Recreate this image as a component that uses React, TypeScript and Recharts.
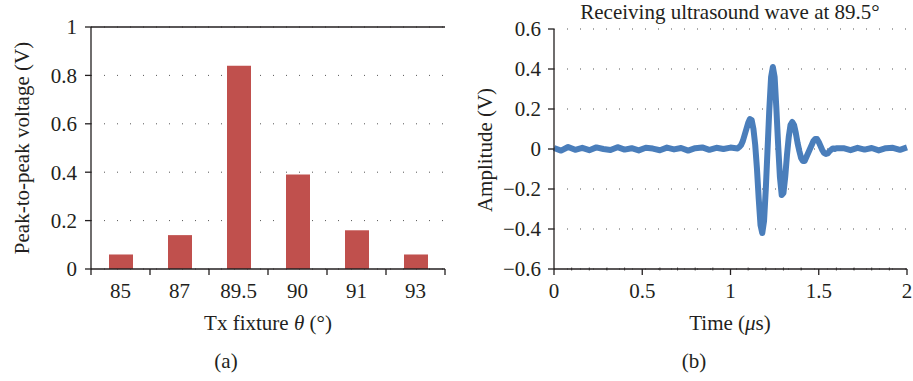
import React from "react";
import {
  BarChart,
  Bar,
  LineChart,
  Line,
  XAxis,
  YAxis,
  CartesianGrid,
  ReferenceLine,
} from "recharts";

// (a) peak-to-peak voltage per Tx fixture angle
const angles = ["85", "87", "89.5", "90", "91", "93"];
const peakVoltage = [0.06, 0.14, 0.84, 0.39, 0.16, 0.06];
const voltageTicks = [0, 0.2, 0.4, 0.6, 0.8, 1];

// (b) received waveform at 89.5 deg
const waveTime = [
  0, 0.04, 0.08, 0.12, 0.16, 0.2, 0.24, 0.28, 0.32, 0.36, 0.4, 0.44, 0.48, 0.52,
  0.56, 0.6, 0.64, 0.68, 0.72, 0.76, 0.8, 0.84, 0.88, 0.92, 0.96, 1.0, 1.04,
  1.05, 1.06, 1.07, 1.08, 1.09, 1.1, 1.11, 1.12, 1.13, 1.14, 1.15, 1.16, 1.17,
  1.18, 1.19, 1.2, 1.21, 1.22, 1.23, 1.24, 1.25, 1.26, 1.27, 1.28, 1.29, 1.3,
  1.31, 1.32, 1.33, 1.34, 1.35, 1.36, 1.37, 1.38, 1.39, 1.4, 1.41, 1.42, 1.43,
  1.44, 1.45, 1.46, 1.47, 1.48, 1.49, 1.5, 1.51, 1.52, 1.53, 1.54, 1.55, 1.56,
  1.57, 1.58, 1.59, 1.6, 1.64, 1.68, 1.72, 1.76, 1.8, 1.84, 1.88, 1.92, 1.96, 2.0,
];
const waveAmp = [
  0.005, -0.008, 0.01, -0.004, 0.006, -0.006, 0.008, 0.0, -0.005, 0.009, -0.003,
  0.004, -0.007, 0.006, 0.002, -0.006, 0.007, -0.002, 0.005, -0.008, 0.004,
  0.008, -0.004, 0.006, 0.0, 0.007, 0.003,
  0.01, 0.02, 0.04, 0.07, 0.1, 0.13, 0.15, 0.145, 0.1, 0.02, -0.1, -0.25, -0.38,
  -0.42, -0.36, -0.2, 0.0, 0.2, 0.36, 0.41, 0.36, 0.2, 0.02, -0.14, -0.23, -0.22,
  -0.14, -0.03, 0.06, 0.12, 0.135, 0.12, 0.08, 0.03, -0.01, -0.045, -0.06, -0.06,
  -0.04, -0.02, 0.0, 0.02, 0.04, 0.05, 0.05, 0.035, 0.015, -0.005, -0.02, -0.025,
  -0.022, -0.012, -0.004, 0.003, 0.0, 0.004,
  0.004, -0.006, 0.006, -0.003, 0.005, -0.007, 0.004, 0.006, -0.004, 0.008,
];
const ampTicks = [-0.6, -0.4, -0.2, 0, 0.2, 0.4, 0.6];
const timeTicks = [
  0, 0.1, 0.2, 0.3, 0.4, 0.5, 0.6, 0.7, 0.8, 0.9, 1, 1.1, 1.2, 1.3, 1.4, 1.5,
  1.6, 1.7, 1.8, 1.9, 2,
];

const barData = angles.map((a, i) => ({ angle: a, v: peakVoltage[i] }));
const waveData = waveTime.map((t, i) => ({ t, v: waveAmp[i] }));

const INK = "#231f20";
const FONT = "'Liberation Serif', 'Times New Roman', serif";
const FS = 21;

// left chart geometry
const L_W = 460;
const L_LEFT = 91;
const L_RIGHT = 15;
const bandW = (L_W - L_LEFT - L_RIGHT) / angles.length;

const CatTick = (props: any) => {
  const { x, y, payload, index } = props;
  return (
    <g>
      <line x1={x - bandW / 2} x2={x - bandW / 2} y1={y} y2={y + 6} stroke={INK} strokeWidth={1.3} />
      {index === angles.length - 1 && (
        <line x1={x + bandW / 2} x2={x + bandW / 2} y1={y} y2={y + 6} stroke={INK} strokeWidth={1.3} />
      )}
      <text x={x} y={y + 22} dy="0.355em" textAnchor="middle" fill={INK} fontSize={FS} fontFamily={FONT}>
        {payload.value}
      </text>
    </g>
  );
};

const isMajor = (v: number) => Math.abs(v * 2 - Math.round(v * 2)) < 1e-6;

const TimeTick = (props: any) => {
  const { x, y, payload } = props;
  const major = isMajor(payload.value);
  return (
    <g>
      <line x1={x} x2={x} y1={major ? y : y - 1.5} y2={major ? y + 6 : y + 1.5} stroke={INK} strokeWidth={major ? 1.3 : 0.8} />
      {major && (
        <text x={x} y={y + 22} dy="0.355em" textAnchor="middle" fill={INK} fontSize={FS} fontFamily={FONT}>
          {String(Math.round(payload.value * 10) / 10)}
        </text>
      )}
    </g>
  );
};

const TopTick = (props: any) => {
  const { x, y } = props;
  return <line x1={x} x2={x} y1={y - 2} y2={y} stroke={INK} strokeWidth={0.8} />;
};

const txt: React.CSSProperties = {
  position: "absolute",
  fontFamily: FONT,
  fontSize: FS,
  color: INK,
  whiteSpace: "nowrap",
  lineHeight: 1,
};

export default function App() {
  return (
    <div style={{ position: "absolute", left: 0, top: 0, width: 913, height: 381, background: "#fff" }}>
      <div style={{ position: "absolute", left: 0, top: 0 }}>
        <BarChart
          width={L_W}
          height={381}
          data={barData}
          margin={{ top: 27, right: L_RIGHT, bottom: 82, left: 41 }}
          barCategoryGap={0}
        >
          <CartesianGrid vertical={false} stroke="#555" strokeDasharray="1 12" />
          <XAxis
            dataKey="angle"
            height={30}
            interval={0}
            tickLine={false}
            tickSize={0}
            tickMargin={0}
            axisLine={{ stroke: INK, strokeWidth: 1.3 }}
            tick={(p: any) => <CatTick {...p} />}
          />
          <YAxis
            width={50}
            domain={[0, 1]}
            ticks={voltageTicks}
            interval={0}
            tickSize={6}
            tickMargin={8}
            axisLine={{ stroke: INK, strokeWidth: 1.3 }}
            tickLine={{ stroke: INK, strokeWidth: 1.3 }}
            tick={{ fill: INK, fontSize: FS, fontFamily: FONT }}
            tickFormatter={(v: number) => String(v)}
          />
          <ReferenceLine y={1} stroke={INK} strokeWidth={1.3} />
          <Bar dataKey="v" fill="#c0504d" barSize={24} isAnimationActive={false} />
        </BarChart>
      </div>

      <div style={{ position: "absolute", left: 460, top: 0 }}>
        <LineChart
          width={453}
          height={381}
          data={waveData}
          margin={{ top: 29, right: 6, bottom: 82, left: 39 }}
        >
          <CartesianGrid vertical={false} stroke="#555" strokeDasharray="1 12" />
          <XAxis
            dataKey="t"
            type="number"
            domain={[0, 2]}
            ticks={timeTicks}
            interval={0}
            height={30}
            tickLine={false}
            tickSize={0}
            tickMargin={0}
            axisLine={{ stroke: INK, strokeWidth: 1.3 }}
            tick={(p: any) => <TimeTick {...p} />}
          />
          <XAxis
            xAxisId="top"
            orientation="top"
            dataKey="t"
            type="number"
            domain={[0, 2]}
            ticks={timeTicks}
            interval={0}
            height={0}
            tickLine={false}
            tickSize={0}
            tickMargin={0}
            axisLine={{ stroke: INK, strokeWidth: 1.3 }}
            tick={(p: any) => <TopTick {...p} />}
          />
          <YAxis
            width={55}
            domain={[-0.6, 0.6]}
            ticks={ampTicks}
            interval={0}
            tickSize={6}
            tickMargin={7}
            axisLine={{ stroke: INK, strokeWidth: 1.3 }}
            tickLine={{ stroke: INK, strokeWidth: 1.3 }}
            tick={{ fill: INK, fontSize: FS, fontFamily: FONT }}
            tickFormatter={(v: number) => String(v).replace("-", "\u2212")}
          />
          <Line
            dataKey="v"
            type="linear"
            stroke="#4a7ebb"
            strokeWidth={6}
            strokeLinejoin="round"
            dot={false}
            isAnimationActive={false}
          />
        </LineChart>
      </div>

      <div style={{ ...txt, left: 22, top: 148, transform: "translate(-50%, -50%) rotate(-90deg)" }}>
        Peak-to-peak voltage (V)
      </div>
      <div style={{ ...txt, left: 268, top: 323, transform: "translate(-50%, -50%)" }}>
        Tx fixture <i>θ</i> (°)
      </div>
      <div style={{ ...txt, left: 226, top: 361, transform: "translate(-50%, -50%)" }}>(a)</div>

      <div style={{ ...txt, left: 485, top: 150, transform: "translate(-50%, -50%) rotate(-90deg)" }}>
        Amplitude (V)
      </div>
      <div style={{ ...txt, left: 730, top: 12, transform: "translate(-50%, -50%)" }}>
        Receiving ultrasound wave at 89.5°
      </div>
      <div style={{ ...txt, left: 730, top: 323, transform: "translate(-50%, -50%)" }}>
        Time (<i>μ</i>s)
      </div>
      <div style={{ ...txt, left: 694, top: 361, transform: "translate(-50%, -50%)" }}>(b)</div>
    </div>
  );
}
